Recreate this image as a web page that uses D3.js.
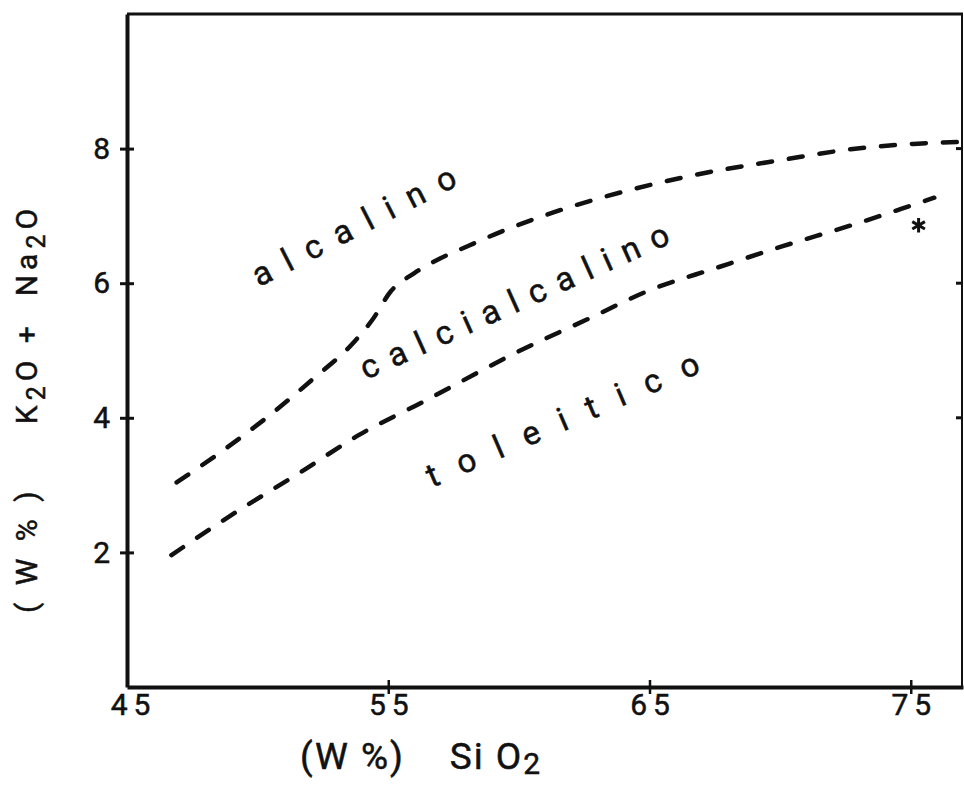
<!DOCTYPE html>
<html>
<head>
<meta charset="utf-8">
<script src="https://cdn.jsdelivr.net/npm/d3@7"></script>
<style>
body { margin: 0; background: #fff; }
svg { display: block; }
text { font-family: Roboto, "DejaVu Sans", sans-serif; fill: #111; stroke: #111; stroke-width: 0.5px; }
.axis path, .axis line { stroke: #111; }
</style>
</head>
<body>
<svg id="chart" width="964" height="785"></svg>
<script>
// tick values
var xTicks = [45, 55, 65, 75];
var yTicks = [2, 4, 6, 8];
var rightTicks = [4, 6, 8];

// boundary alcalino / calcialcalino  (SiO2, K2O+Na2O)
var upperLine = [
  [46.9, 3.04], [48.8, 3.55], [50.5, 4.05], [52.1, 4.57], [53.7, 5.13],
  [54.4, 5.46], [55.1, 5.88], [56.0, 6.15], [57.0, 6.37], [58.1, 6.56],
  [59.1, 6.73], [61.7, 7.10], [64.1, 7.37], [66.5, 7.59], [70.2, 7.84],
  [72.7, 7.99], [75.1, 8.07], [77.0, 8.10]
];

// boundary calcialcalino / toleitico
var lowerLine = [
  [46.7, 1.96], [49.3, 2.63], [51.6, 3.18], [53.9, 3.75], [56.3, 4.23],
  [59.9, 4.97], [62.6, 5.46], [65.1, 5.91], [67.5, 6.22], [70.1, 6.55],
  [72.8, 6.87], [74.6, 7.10], [75.9, 7.27]
];

var samples = [[75.3, 6.86]];

// field names, written from -> to
var fieldNames = ["alcalino", "calcialcalino", "toleitico"];
var fieldFrom = [[50.05, 5.94], [54.15, 4.56], [56.67, 2.96]];
var fieldTo = [[57.71, 7.46], [65.86, 6.60], [67.01, 4.68]];

var svg = d3.select("#chart");

var x = d3.scaleLinear().domain([45, 77]).range([127, 963]),
    y = d3.scaleLinear().domain([0, 10]).range([687, 14]);

// frame top + right
svg.append("line")
  .attr("x1", x(45)).attr("x2", x(77))
  .attr("y1", y(10)).attr("y2", y(10))
  .attr("stroke", "#111").attr("stroke-width", 3);
svg.append("line")
  .attr("x1", x(77) - 1).attr("x2", x(77) - 1)
  .attr("y1", y(10)).attr("y2", y(0))
  .attr("stroke", "#111").attr("stroke-width", 2);

svg.selectAll(".rtick")
  .data(rightTicks)
  .enter().append("line")
    .attr("class", "rtick")
    .attr("x1", x(77) - 7).attr("x2", x(77))
    .attr("y1", function(d) { return y(d); })
    .attr("y2", function(d) { return y(d); })
    .attr("stroke", "#111").attr("stroke-width", 3);

// left axis
var gy = svg.append("g")
  .attr("class", "axis axis--y")
  .attr("transform", "translate(" + x(45) + ",0)")
  .call(d3.axisLeft(y).tickValues(yTicks).tickSize(7).tickSizeOuter(0).tickPadding(10));
gy.select(".domain").attr("stroke-width", 4);
gy.selectAll(".tick line").attr("x1", 7).attr("stroke-width", 3);
gy.selectAll(".tick text").style("font-size", "30px");

// bottom axis
var gx = svg.append("g")
  .attr("class", "axis axis--x")
  .attr("transform", "translate(0," + y(0) + ")")
  .call(d3.axisBottom(x).tickValues(xTicks).tickSize(7).tickSizeOuter(0).tickPadding(0)
    .tickFormat(function(d) { return String(d); }));
gx.select(".domain").attr("stroke-width", 4);
gx.selectAll(".tick line")
  .attr("y1", -7).attr("stroke-width", 2.5)
  .style("display", function(d) { return d === 45 ? "none" : null; });
gx.selectAll(".tick text")
  .style("font-size", "30px")
  .style("letter-spacing", "6px")
  .attr("dx", function(d) { return d === 45 ? 6 : 3; });

// boundaries
var line = d3.line()
  .curve(d3.curveMonotoneX)
  .x(function(d) { return x(d[0]); })
  .y(function(d) { return y(d[1]); });

svg.selectAll(".boundary")
  .data([upperLine, lowerLine])
  .enter().append("path")
    .attr("class", "boundary")
    .attr("d", line)
    .attr("fill", "none")
    .attr("stroke", "#111")
    .attr("stroke-width", 4.5)
    .attr("stroke-linecap", "round")
    .attr("stroke-dasharray", "14,17");

// sample
var star = d3.symbol().type(d3.symbolAsterisk || d3.symbolCross).size(150);
svg.selectAll(".sample")
  .data(samples)
  .enter().append("path")
    .attr("class", "sample")
    .attr("d", star)
    .attr("transform", function(d) { return "translate(" + x(d[0]) + "," + y(d[1]) + ")"; })
    .attr("fill", "#111")
    .attr("stroke", "#111")
    .attr("stroke-width", 3);

// field names
svg.selectAll(".field")
  .data(fieldNames)
  .enter().append("text")
    .attr("class", "field")
    .attr("transform", function(d, i) {
      var x0 = x(fieldFrom[i][0]), y0 = y(fieldFrom[i][1]),
          x1 = x(fieldTo[i][0]), y1 = y(fieldTo[i][1]);
      var a = Math.atan2(y1 - y0, x1 - x0) * 180 / Math.PI;
      return "translate(" + x0 + "," + y0 + ") rotate(" + a + ")";
    })
    .attr("textLength", function(d, i) {
      var dx = x(fieldTo[i][0]) - x(fieldFrom[i][0]),
          dy = y(fieldTo[i][1]) - y(fieldFrom[i][1]);
      return Math.sqrt(dx * dx + dy * dy);
    })
    .attr("lengthAdjust", "spacing")
    .style("font-size", "33px")
    .text(function(d) { return d; });

// axis titles
var nb = "\u00a0";
var yt = svg.append("text")
  .attr("transform", "translate(37,0) rotate(-90)")
  .attr("x", -613)
  .style("font-size", "30px")
  .style("letter-spacing", "5px");
yt.append("tspan").text("(" + nb + "W" + nb + "%" + nb + ")" + nb + nb + nb + nb + nb + "K");
yt.append("tspan").attr("dy", 8).style("font-size", "25px").text("2");
yt.append("tspan").attr("dy", -8).text("O" + nb + "+" + nb + nb + "Na");
yt.append("tspan").attr("dy", 8).style("font-size", "25px").text("2");
yt.append("tspan").attr("dy", -8).text("O");

var xt = svg.append("text")
  .attr("x", 300)
  .attr("y", 769)
  .style("font-size", "37px")
  .style("letter-spacing", "2px");
xt.append("tspan").text("(W" + nb + "%)" + nb + nb + nb + nb + "Si" + nb + "O");
xt.append("tspan").attr("dy", 5).style("font-size", "30px").text("2");
</script>
</body>
</html>
